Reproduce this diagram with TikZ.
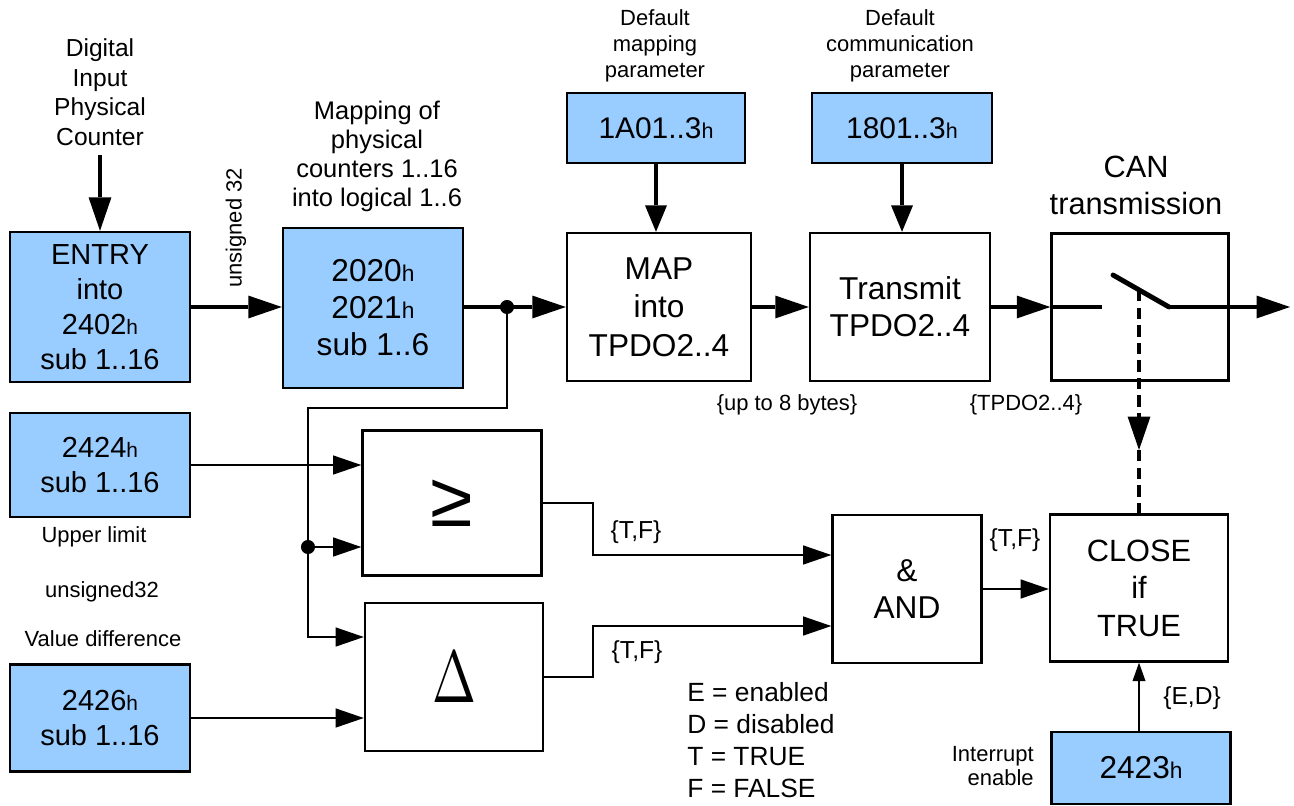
\documentclass[tikz,border=0pt]{standalone}
\usepackage{fontspec}
\setmainfont{Liberation Sans}
\usetikzlibrary{arrows.meta}
\definecolor{cblue}{RGB}{153,204,255}
\newcommand\hsm{\scalebox{0.72}{h}}
\newcommand\myfs[2]{\fontsize{#1}{#2}\selectfont}
\begin{document}
\begin{tikzpicture}[x=0.02cm,y=-0.02cm,
  blk/.style={draw, line width=1.4pt, fill=white, inner sep=0pt, align=center},
  bbk/.style={blk, fill=cblue},
  sz/.style 2 args={minimum width=#1*0.02cm, minimum height=#2*0.02cm},
  lab/.style={inner sep=0pt, align=center},
  thk/.style={line width=2.8pt, -{Triangle[length=19pt,width=13pt,line width=0pt]}},
  med/.style={line width=2pt, -{Triangle[length=15pt,width=12.5pt,line width=0pt]}},
  thn/.style={line width=1.3pt, -{Triangle[length=16pt,width=11pt,line width=0pt]}},
  sml/.style={line width=1.3pt, -{Triangle[length=10.5pt,width=7.5pt,line width=0pt]}},
  dsh/.style={line width=2.7pt, dash pattern=on 6.5pt off 3.5pt},
  dot/.style={fill=black}
]
\useasboundingbox (0,0) rectangle (1294,805);

% ---------- boxes ----------
\node[bbk, sz={180}{150}, font=\myfs{16.5}{20}] (entry) at (100,307) {ENTRY\\into\\2402\hsm\\sub 1..16};
\node[bbk, sz={180}{160}, font=\myfs{18}{21}] (m2020) at (373,308) {2020\hsm\\2021\hsm\\sub 1..6};
\node[blk, sz={184}{148}, font=\myfs{18}{21.8}] (map) at (659,307) {MAP\\into\\TPDO2..4};
\node[bbk, sz={178}{70}, font=\myfs{17}{20}] (a1a) at (656,128) {1A01..3\hsm};
\node[bbk, sz={180}{70}, font=\myfs{17}{20}] (c18) at (902,128) {1801..3\hsm};
\node[blk, sz={180}{148}, font=\myfs{18}{21}] (tx) at (900,307) {Transmit\\TPDO2..4};
\node[blk, sz={177}{147}] (can) at (1140,307) {};
\node[bbk, sz={180}{104}, font=\myfs{16.5}{20}] (b2424) at (100,465) {2424\hsm\\sub 1..16};
\node[bbk, sz={180}{107}, font=\myfs{16.5}{20}] (b2426) at (100,718) {2426\hsm\\sub 1..16};
\node[blk, sz={179}{145}, font=\myfs{44}{48}] (ge) at (452,503) {≥};
\node[blk, sz={178}{148}] (dl) at (454,677) {\scalebox{3.0}[4.2]{$\Delta$}};
\node[blk, sz={149}{148}, font=\myfs{18}{21}] (andb) at (907,589) {\&\\AND};
\node[blk, sz={178}{147}, font=\myfs{17.5}{21.3}] (close) at (1139,588) {CLOSE\\if\\TRUE};
\node[bbk, sz={179}{72}, font=\myfs{18}{21}] (b2423) at (1141,768) {2423\hsm};

% ---------- labels ----------
\node[lab, font=\myfs{14}{16.8}] (din) at (100,92) {Digital\\Input\\Physical\\Counter};
\node[lab, font=\myfs{14.5}{16.5}] (mapl) at (377,156) {Mapping of\\physical\\counters 1..16\\into logical 1..6};
\node[lab, rotate=90, font=\myfs{12.5}{15}] (u32) at (236,228) {unsigned 32};
\node[lab, font=\myfs{12.5}{14.8}] (dmp) at (655,46) {Default\\mapping\\parameter};
\node[lab, font=\myfs{12.5}{14.8}] (dcp) at (900,46) {Default\\communication\\parameter};
\node[lab, font=\myfs{17.5}{21}] (canl) at (1136,185) {CAN\\transmission};
\node[lab, font=\myfs{12.5}{15}] (ub) at (787,405) {\{up to 8 bytes\}};
\node[lab, font=\myfs{12.5}{15}] (tp) at (1026,405) {\{TPDO2..4\}};
\node[lab, font=\myfs{14}{16}] (tf1) at (636,532) {\{T,F\}};
\node[lab, font=\myfs{14}{16}] (tf2) at (637,652) {\{T,F\}};
\node[lab, font=\myfs{14}{16}] (tf3) at (1015,540) {\{T,F\}};
\node[lab, font=\myfs{14}{16}] (ed) at (1192,698) {\{E,D\}};
\node[lab, anchor=east, align=right, font=\myfs{12.5}{13.5}] (ie) at (1034,766) {Interrupt\\enable};
\node[lab, anchor=west, align=left, font=\myfs{15}{18.3}] (leg) at (687,740) {E = enabled\\D = disabled\\T = TRUE\\F = FALSE};
\node[lab, font=\myfs{12.5}{15}] (ul) at (94,537) {Upper limit};
\node[lab, font=\myfs{12.5}{15}] (u32b) at (102,592) {unsigned32};
\node[lab, font=\myfs{12.5}{15}] (vd) at (103,639) {Value difference};

% ---------- coordinates ----------
\coordinate (dinA) at (100,155);
\coordinate (j1) at (507,307);
\coordinate (k1) at (308,408);
\coordinate (j2) at (308,547);
\coordinate (k2) at (308,637);
\coordinate (g1) at (593,555);
\coordinate (d1) at (593,626);
\coordinate (sw1) at (1102,307);
\coordinate (sw2) at (1113,275);
\coordinate (sw3) at (1169,307);
\coordinate (outp) at (1290,307);
\coordinate (lev) at (1139,290);
\coordinate (dm) at (1139,450);

% ---------- main flow ----------
\draw[thk] (dinA) -- (entry.north);
\draw[thk] (entry.east |- j1) -- (m2020.west |- j1);
\draw[thk] (m2020.east |- j1) -- (map.west);
\draw[thk] (map.east) -- (tx.west);
\draw[thk] (tx.east) -- (can.west);
\draw[med] (a1a.south) -- (map.north -| a1a.south);
\draw[med] (c18.south) -- (tx.north -| c18.south);

% switch
\draw[line width=2.8pt] (can.west) -- (sw1);
\draw[line width=2.8pt, line cap=round] (sw2) -- (sw3);
\draw[thk] (sw3) -- (outp);
\draw[dsh, -{Triangle[length=19pt,width=13pt,line width=0pt]}] (lev) -- (dm);
\draw[dsh] (dm) -- (close.north);

% ---------- comparison wiring ----------
\draw[thn] (j1) |- (k1) -- (k2) -- (dl.west |- k2);
\draw[thn] (j2) -- (ge.west |- j2);
\draw[thn] (b2424.east) -- (ge.west |- b2424.east);
\draw[thn] (b2426.east) -- (dl.west |- b2426.east);
\draw[thn] (ge.east) -| (g1) -- (andb.west |- g1);
\draw[thn] (dl.east) -| (d1) -- (andb.west |- d1);
\draw[thn] (andb.east) -- (close.west |- andb.east);
\draw[sml] (close.south |- b2423.north) -- (close.south);

\fill[dot] (j1) circle (4pt);
\fill[dot] (j2) circle (4pt);
\end{tikzpicture}
\end{document}
